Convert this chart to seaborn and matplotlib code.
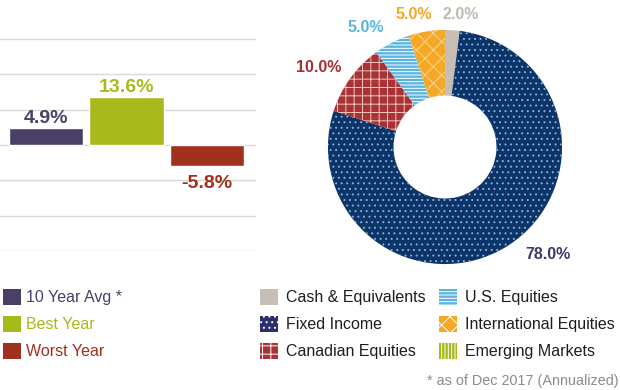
import numpy as np
import pandas as pd
import seaborn as sns
import matplotlib.pyplot as plt
from matplotlib.patches import Patch

# ---- data ----
bar_labels = ["10 Year Avg *", "Best Year", "Worst Year"]
bar_values = [4.9, 13.6, -5.8]
bar_colors = ["#4a3f66", "#a8b91c", "#a1301f"]

pie_labels = ["Cash & Equivalents", "Fixed Income", "Canadian Equities",
              "U.S. Equities", "International Equities", "Emerging Markets"]
pie_values = [2.0, 78.0, 10.0, 5.0, 5.0, 0.0]
pie_colors = ["#c6bfb3", "#0b3468", "#a83236", "#5bb4e0", "#f5a826", "#a8b91c"]
legend_colors = ["#c6bfb3", "#2d2f6c", "#a83236", "#5bb4e0", "#f5a826", "#a8b91c"]
pie_hatches = [None, "...", "++", "-----", "xx", "|||||"]
pie_hatch_colors = ["#c6bfb3", "#8eaad8", "#f2c6bc", "#ffffff", "#fbd58c", "#d8e07a"]
pie_text_colors = ["#c0bbb2", "#3b3a6e", "#a83236", "#5bb4e0", "#f5a826", "#a8b91c"]
# where the percentage labels sit (pie units, radius = 1)
pie_label_pos = [(0.13, 1.13), (0.88, -0.92), (-1.08, 0.68),
                 (-0.68, 1.02), (-0.27, 1.13), (0, 0)]

sns.set_style("white")
plt.rcParams["font.family"] = ["Liberation Sans", "DejaVu Sans"]
plt.rcParams["hatch.linewidth"] = 0.7

fig = plt.figure(figsize=(6.2, 3.9), dpi=100)

# ---- bar chart ----
ax1 = fig.add_axes([0.0, 0.3564, 0.413, 0.6436])
df = pd.DataFrame({"label": bar_labels, "value": bar_values})
sns.barplot(data=df, x="label", y="value", hue="label", palette=bar_colors,
            width=0.92, saturation=1, legend=False, ax=ax1)
ax1.set_ylim(-30, 41.05)
ax1.set_xlim(-0.571, 2.609)
ax1.set_yticks([-30, -20, -10, 0, 10, 20, 30])
ax1.yaxis.grid(True, color="#d9d9d9", linewidth=1)
ax1.set_axisbelow(True)
ax1.tick_params(left=False, bottom=False, labelleft=False, labelbottom=False)
ax1.set_xlabel("")
ax1.set_ylabel("")
for s in ax1.spines.values():
    s.set_visible(False)
for i, v in enumerate(bar_values):
    if v >= 0:
        ax1.annotate(f"{v:.1f}%", (i, v), xytext=(0, 0.5), textcoords="offset points",
                     ha="center", va="bottom", fontsize=14, fontweight="bold",
                     color=bar_colors[i])
    else:
        ax1.annotate(f"{v:.1f}%", (i, v), xytext=(0, -7), textcoords="offset points",
                     ha="center", va="top", fontsize=14, fontweight="bold",
                     color=bar_colors[i])

# ---- donut ----
ax2 = fig.add_axes([0.4629, 0.2179, 0.5097, 0.8103])
wedges, _ = ax2.pie(pie_values, colors=pie_colors, startangle=90, counterclock=False,
                    radius=1, wedgeprops=dict(width=0.56, linewidth=0))
for w, h, hc in zip(wedges, pie_hatches, pie_hatch_colors):
    w.set_edgecolor(hc)
    if h:
        w.set_hatch(h)
ax2.set_xlim(-1.35, 1.35)
ax2.set_ylim(-1.35, 1.35)
ax2.set_aspect("equal")
ax2.axis("off")
for v, pos, c in zip(pie_values, pie_label_pos, pie_text_colors):
    if v > 0:
        ax2.text(pos[0], pos[1], f"{v:.1f}%", ha="center", va="center",
                 fontsize=11.5, fontweight="bold", color=c)

# ---- legends ----
bar_handles = [Patch(facecolor=c, edgecolor=c, linewidth=0) for c in bar_colors]
leg1 = fig.legend(bar_handles, bar_labels, loc="upper left", bbox_to_anchor=(0.005, 0.259),
                  frameon=False, fontsize=11.5, handlelength=1.15, handleheight=1.15,
                  handletextpad=0.3, labelspacing=0.66, borderpad=0, borderaxespad=0)
for t, c in zip(leg1.get_texts(), bar_colors):
    t.set_color(c)

pie_handles = [Patch(facecolor=c, edgecolor=("#ffffff" if h else hc), hatch=h, linewidth=0)
               for c, h, hc in zip(legend_colors, pie_hatches, pie_hatch_colors)]
leg2 = fig.legend(pie_handles, pie_labels, loc="upper left", bbox_to_anchor=(0.419, 0.259),
                  ncol=2, frameon=False, fontsize=11.5, handlelength=1.15,
                  handleheight=1.15, handletextpad=0.5, labelspacing=0.66,
                  columnspacing=0.8, borderpad=0, borderaxespad=0)
for t in leg2.get_texts():
    t.set_color("#1e1e1e")

fig.text(0.998, 0.022, "* as of Dec 2017 (Annualized)", ha="right", va="center",
         fontsize=10.4, color="#8c8c8c")

fig.savefig("out.png", dpi=100)
